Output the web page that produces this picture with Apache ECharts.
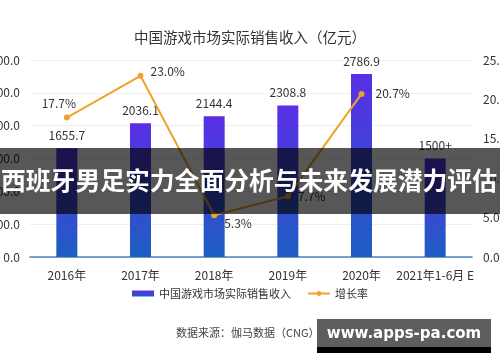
<!DOCTYPE html>
<html><head><meta charset="utf-8">
<script src="https://cdn.jsdelivr.net/npm/echarts@6/dist/echarts.min.js"></script>
<style>html,body{margin:0;padding:0;background:#fff}#c{width:500px;height:362px}</style>
</head><body><div id="c"></div>
<script>
const categories = ['2016年','2017年','2018年','2019年','2020年','2021年1-6月 E'];
const revenue = [1655.7, 2036.1, 2144.4, 2308.8, 2786.9, 1500];
const revenueLabels = ['1655.7','2036.1','2144.4','2308.8','2786.9','1500+'];
const growth = [17.7, 23.0, 5.3, 7.7, 20.7, null];
const leftTicks = [0, 500, 1000, 1500, 2000, 2500, 3000];
const rightTicks = [0, 5, 10, 15, 20, 25];
const titleText = '中国游戏市场实际销售收入（亿元）';
const seriesNames = ['中国游戏市场实际销售收入', '增长率'];
const sourceText = '数据来源：伽马数据（CNG）';
const bannerText = '西班牙男足实力全面分析与未来发展潜力评估';
const watermarkText = 'www.apps-pa.com';

const FONT = '"Noto Sans CJK SC", "Noto Sans", sans-serif';
const chart = echarts.init(document.getElementById('c'), null, {renderer: 'canvas'});
const growthLabelPos = [
  {position: 'top', offset: [-8, 0]},
  {position: 'right', offset: [2, -4]},
  {position: 'right', offset: [2, 8]},
  {position: 'right', offset: [2, 0]},
  {position: 'right', offset: [6, 0]},
  {position: 'right'}
];
chart.setOption({
  animation: false,
  textStyle: {fontFamily: FONT},
  title: {text: titleText, left: 'center', top: 25,
    textStyle: {fontSize: 14.5, fontWeight: 'normal', color: '#333', fontFamily: FONT}},
  legend: {bottom: 58, left: 'center', itemGap: 16, itemWidth: 22, itemHeight: 6,
    textStyle: {fontSize: 11, color: '#333', fontFamily: FONT},
    data: [{name: seriesNames[0], icon: 'rect'}, {name: seriesNames[1]}]},
  grid: {left: 30, right: 28, top: 60, bottom: 105, containLabel: false, outerBoundsMode: 'none'},
  xAxis: {type: 'category', data: categories,
    axisLine: {lineStyle: {color: '#4f80b8', width: 1.5}},
    axisTick: {show: false},
    axisLabel: {fontSize: 12, color: '#333', margin: 12, interval: 0, fontFamily: FONT}},
  yAxis: [
    {type: 'value', min: leftTicks[0], max: leftTicks[leftTicks.length-1], interval: 500,
      axisLine: {show: false}, axisTick: {show: false},
      splitLine: {lineStyle: {color: '#eeeeee'}},
      axisLabel: {fontSize: 12, color: '#333', margin: 10, formatter: v => v.toFixed(1)}},
    {type: 'value', min: rightTicks[0], max: rightTicks[rightTicks.length-1], interval: 5,
      axisLine: {show: false}, axisTick: {show: false}, splitLine: {show: false},
      axisLabel: {fontSize: 12, color: '#333', margin: 11, formatter: v => v.toFixed(1) + '%'}}
  ],
  series: [
    {name: seriesNames[0], type: 'bar', barWidth: 21, yAxisIndex: 0,
      data: revenue,
      itemStyle: {color: new echarts.graphic.LinearGradient(0, 0, 0, 1, [
        {offset: 0, color: '#5a2fe6'}, {offset: 1, color: '#1d5ec2'}])},
      label: {show: true, position: 'top', distance: 7, fontSize: 12, color: '#333',
        formatter: p => revenueLabels[p.dataIndex]}},
    {name: seriesNames[1], type: 'line', yAxisIndex: 1, z: 5,
      data: growth.map((v, i) => ({value: v, label: growthLabelPos[i]})),
      symbol: 'circle', symbolSize: 6,
      lineStyle: {color: '#eda32c', width: 2},
      itemStyle: {color: '#eda32c'},
      label: {show: true, fontSize: 12, color: '#333', formatter: p => p.value.toFixed(1) + '%'}}
  ],
  graphic: [
    {type: 'text', left: 176, top: 327, z: 10,
      style: {text: sourceText, fontSize: 11, fill: '#444', fontFamily: FONT}},
    {type: 'rect', shape: {x: 0, y: 148, width: 500, height: 66}, z: 50,
      style: {fill: 'rgba(0,0,0,0.66)'}},
    {type: 'text', x: 1, y: 181, z: 51,
      style: {text: bannerText, fontSize: 24.8, fontWeight: 'bold', fill: '#fff',
        fontFamily: FONT, verticalAlign: 'middle', textAlign: 'left'}},
    {type: 'rect', shape: {x: 317, y: 319, width: 174, height: 29}, z: 50,
      style: {fill: '#5e5e5e'}},
    {type: 'rect', shape: {x: 317, y: 347, width: 174, height: 6}, z: 50,
      style: {fill: '#000'}},
    {type: 'text', x: 404, y: 334, z: 51,
      style: {text: watermarkText, fontSize: 15, fontWeight: 'bold', fill: '#fff',
        fontFamily: '"DejaVu Sans", sans-serif', textAlign: 'center', verticalAlign: 'middle'}}
  ]
});
</script></body></html>
